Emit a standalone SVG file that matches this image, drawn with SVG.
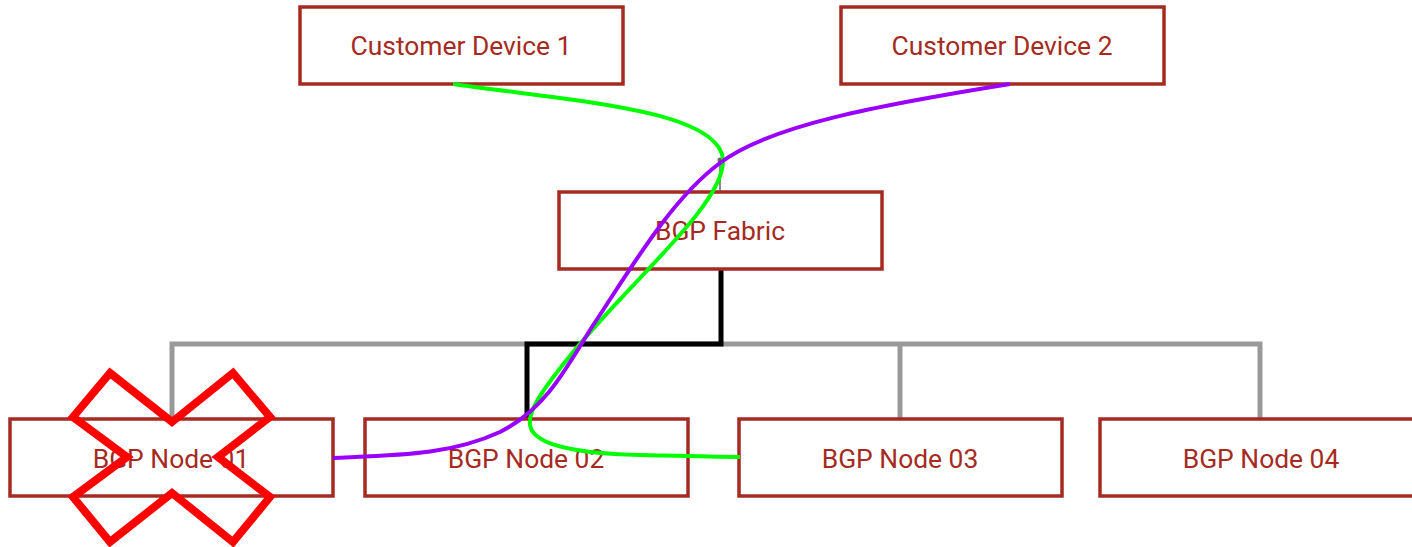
<svg xmlns="http://www.w3.org/2000/svg" width="1412" height="547" viewBox="0 0 1412 547">
<style>
.box{fill:#fff;stroke:#A52A22;stroke-width:3.5}
.lbl{font-family:Roboto,"Liberation Sans",sans-serif;font-size:26.4px;fill:#A52A22;text-anchor:middle}
.tree{fill:none;stroke:#999;stroke-width:5}
.blk{fill:none;stroke:#000;stroke-width:5}
.crv{fill:none;stroke-width:4}
</style>
<g id="tree-connectors">
<path class="tree" d="M172,419 V344 H1260 V419 M900,344 V419"/>
<path class="blk" d="M721,269 V344 H527 V419"/>
</g>
<g id="cd1"><rect class="box" x="300" y="7" width="323" height="77"/><text class="lbl" x="461" y="55">Customer Device 1</text></g>
<g id="cd2"><rect class="box" x="841" y="7" width="323" height="77"/><text class="lbl" x="1002" y="55">Customer Device 2</text></g>
<g id="fabric"><rect class="box" x="559" y="192" width="323" height="77"/><text class="lbl" x="720" y="240">BGP Fabric</text></g>
<g id="node01"><rect class="box" x="10" y="419" width="323" height="77"/><text class="lbl" x="171" y="468">BGP Node 01</text></g>
<g id="node02"><rect class="box" x="365" y="419" width="323" height="77"/><text class="lbl" x="526" y="468">BGP Node 02</text></g>
<g id="node03"><rect class="box" x="739" y="419" width="323" height="77"/><text class="lbl" x="900" y="468">BGP Node 03</text></g>
<g id="node04"><rect class="box" x="1100" y="419" width="323" height="77"/><text class="lbl" x="1261" y="468">BGP Node 04</text></g>
<g id="paths">
<path d="M720,160 V191" stroke="#666" stroke-width="1.5" fill="none"/>
<circle cx="720" cy="160" r="2.5" fill="#666"/>
<path class="crv" stroke="#00FF00" d="M453,84 C560,100 720,108 723,160 C725,205 625,285 565,362 C543,390 528,410 530,425 C533,448 590,454 640,455 C680,456 710,457 740,457"/>
<path class="crv" stroke="#9900FF" d="M1010,84 C880,105 770,125 720,163 C670,200 630,270 590,330 C560,380 540,412 500,432 C450,455 400,455 333,458"/>
</g>
<g id="fail-mark">
<polygon points="110,373 172,422 233,373 270,417 218,457 270,497 233,542 172,493 110,542 73,497 127,457 73,417" fill="none" stroke="#FF0000" stroke-width="8" stroke-linejoin="miter"/>
</g>
</svg>
